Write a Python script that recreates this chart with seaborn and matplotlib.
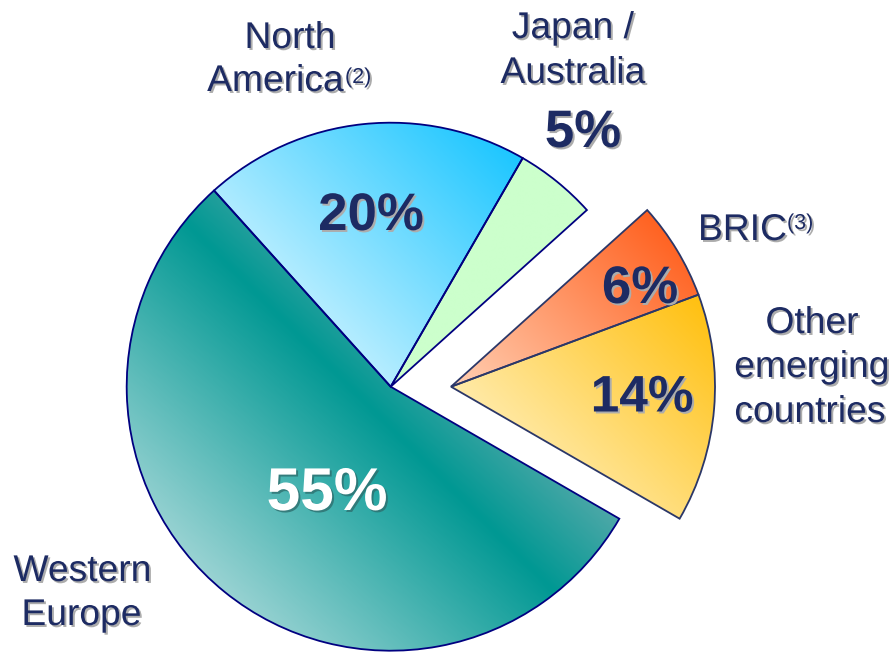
import numpy as np
import matplotlib
matplotlib.use("Agg")
import matplotlib.pyplot as plt
import matplotlib.patheffects as pe
from matplotlib.colors import LinearSegmentedColormap
import seaborn as sns

# Regional split of sales (%), listed in drawing order (counter-clockwise)
regions = ["Western Europe", "Other emerging countries", "BRIC",
           "Japan / Australia", "North America"]
shares = [55, 14, 6, 5, 20]
pulled_out = ["Other emerging countries", "BRIC"]

# Gradient stops per region (position, colour), running bottom-left -> top-right
fills = {
    "Western Europe": [(0.0, "#9ad3d3"), (0.71, "#009893"), (1.0, "#4ea8a8")],
    "North America": [(0.0, "#b6edff"), (1.0, "#1cc6ff")],
    "Japan / Australia": [(0.0, "#ccffcc"), (1.0, "#ccffcc")],
    "BRIC": [(0.0, "#ffcfb3"), (1.0, "#ff6221")],
    "Other emerging countries": [(0.0, "#ffeaa8"), (1.0, "#ffc010")],
}

sns.set_theme(style="white")
plt.rcParams["font.family"] = ["Liberation Sans", "DejaVu Sans"]

W, H = 893, 652
fig = plt.figure(figsize=(W / 100, H / 100), dpi=100)
ax = fig.add_axes([0, 0, 1, 1])

R = 264
START = 132.0
main_center = (390.7, H - 386.7)
split_center = (451.0, H - 386.7)


def draw_pie(center, keep, edge):
    wedges, _ = ax.pie(shares, startangle=START, counterclock=True, radius=R,
                       center=center, frame=True,
                       wedgeprops=dict(edgecolor=edge, linewidth=1.3))
    for w, name in zip(wedges, regions):
        if name not in keep:
            w.set_visible(False)
            continue
        verts = w.get_path().vertices
        x0, y0 = verts.min(axis=0)
        x1, y1 = verts.max(axis=0)
        s = verts[:, 0] + verts[:, 1]
        s0, s1 = s.min(), s.max()
        xs = np.linspace(x0, x1, 300)
        ys = np.linspace(y0, y1, 300)
        X, Y = np.meshgrid(xs, ys)
        T = np.clip((X + Y - s0) / (s1 - s0), 0, 1)
        cmap = LinearSegmentedColormap.from_list(name, fills[name])
        im = ax.imshow(T, extent=(x0, x1, y0, y1), origin="lower", cmap=cmap,
                       vmin=0, vmax=1, interpolation="bilinear", zorder=0.5)
        im.set_clip_path(w)
        w.set_facecolor("none")
        w.set_zorder(1)
    return wedges


draw_pie(main_center, [r for r in regions if r not in pulled_out], "#000080")
draw_pie(split_center, pulled_out, "#2b3768")

ax.set_xlim(0, W)
ax.set_ylim(0, H)
ax.set_aspect("equal")
ax.axis("off")

INK = "#1d2b63"
shadow = [pe.withSimplePatchShadow(offset=(1.4, -1.4), shadow_rgbFace="#acacac", alpha=1.0)]
shadow_dark = [pe.withSimplePatchShadow(offset=(1.4, -1.4), shadow_rgbFace="#2e6f6f", alpha=0.8)]


def put(x, y, s, size=26.8, weight="normal", color=INK, ha="center", fx=shadow):
    ax.text(x, H - y, s, fontsize=size, fontweight=weight, color=color,
            ha=ha, va="baseline", path_effects=fx, zorder=5)


# Region names
put(290, 48, "North")
put(275.5, 91, "America")
put(345, 83, "(2)", size=15.5, ha="left")
put(573, 38, "Japan /")
put(573, 83, "Australia")
put(698, 240, "BRIC", ha="left")
put(787, 229, "(3)", size=15.5, ha="left")
put(812, 333, "Other")
put(812, 377, "emerging")
put(810, 422, "countries")
put(82.5, 581, "Western")
put(81.5, 625, "Europe")

# Share labels
share = dict(zip(regions, shares))
put(583, 147, f"{share['Japan / Australia']}%", size=38, weight="bold")
put(371, 230, f"{share['North America']}%", size=38, weight="bold")
put(640, 303, f"{share['BRIC']}%", size=38, weight="bold")
put(642, 411.5, f"{share['Other emerging countries']}%", size=37, weight="bold")
put(327, 510, f"{share['Western Europe']}%", size=43.5, weight="bold",
    color="white", fx=shadow_dark)

fig.savefig("out.png", dpi=100)
